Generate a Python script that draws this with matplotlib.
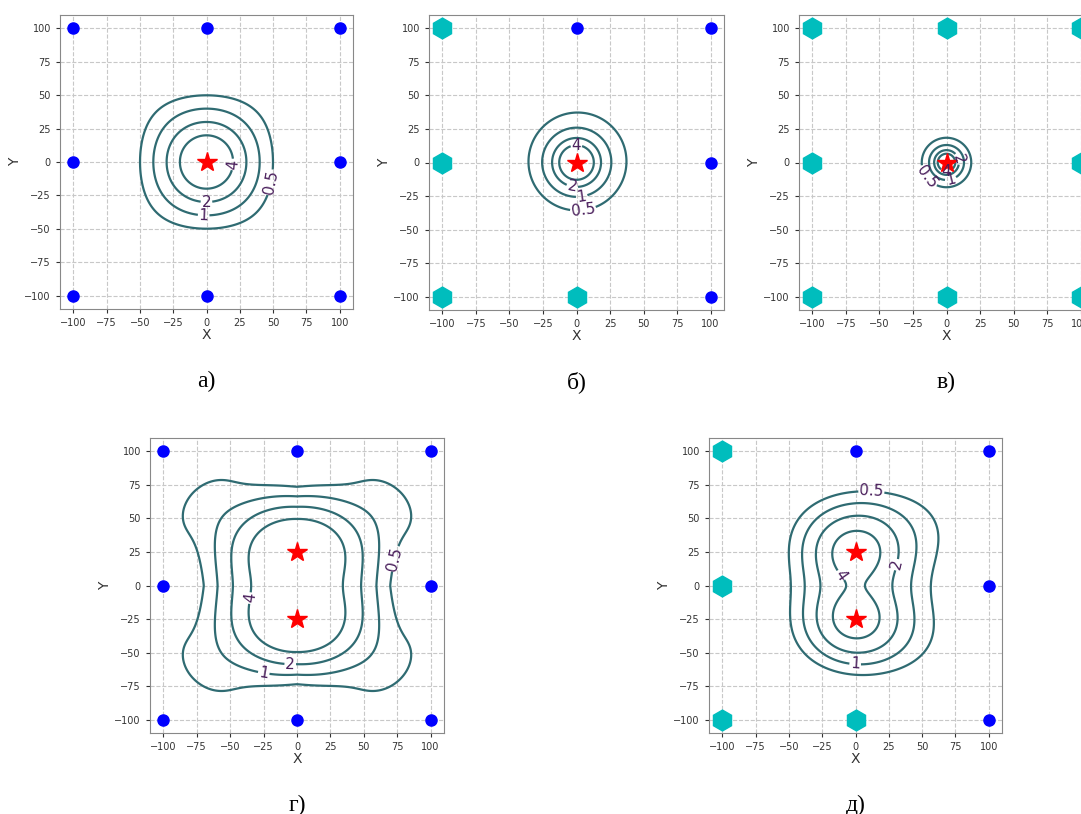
import numpy as np
import matplotlib.pyplot as plt

# contour levels and the sensor grid
levels = [0.5, 1, 2, 4]
sensor_x = [-100, 0, 100, -100, 100, -100, 0, 100]
sensor_y = [100, 100, 100, 0, 0, -100, -100, -100]

# indices of failed sensors in each panel
failed_a = []
failed_b = [0, 3, 5, 6]
failed_c = [0, 1, 2, 3, 4, 5, 6, 7]
failed_d = []
failed_e = [0, 3, 5, 6]

# source positions
one_x = [0]
one_y = [0]
two_x = [0, 0]
two_y = [25, -25]

captions = ['а)', 'б)', 'в)', 'г)', 'д)']

# field model per panel:
# amp, decay, core, power, stretch, corner, corner_max, corner_pow, corner_shape,
# side, bridge, tilt_x, tilt_y
model_a = [16.0, 14.4, 0.0, 0, 1.0, 1.2, 1.0, 4, 2, 0.0, 0.0, 0.0, 0.0]
model_b = [6.65, 1e9, 0.5, 2, 1.0, 0.0, 1.0, 4, 2, 0.0, 0.0, 0.003, 0.003]
model_c = [1.7, 1e9, 0.5, 2, 1.0, 0.0, 1.0, 4, 2, 0.0, 0.0, 0.0, 0.0]
model_d = [1770.0, 7.7, 40.0, 0, 1.37, 0.95, 2.7, 6, 1.2, 0.0, 0.15, 0.0, 0.0]
model_e = [72.7, 10.0, 25.0, 0, 1.1, 0.4, 1.0, 4, 2, 1.2, 0.0, 0.006, 0.002]

# label anchor points for clabel
lab_a = [(22, -2), (47, -15), (0, -28), (-2, -37)]
lab_b = [(0, 10), (-3, -17), (4, -26), (5, -36)]
lab_c = [(10, 3), (0, -6), (3, -12), (-16, -12)]
lab_d = [(73, 20), (-31, -10), (-5, -57), (-25, -66)]
lab_e = [(12, 72), (33, 15), (-12, 7), (0, -55)]

W, H = 1081, 814


def field(X, Y, sx, sy, m):
    (amp, decay, core, power, stretch, corner, cmax, cpow, cshape,
     side, bridge, tx, ty) = m
    f = np.zeros_like(X)
    for px, py in zip(sx, sy):
        rho2 = ((X - px) / stretch) ** 2 + (Y - py) ** 2
        u = np.sqrt(rho2 + core ** 2)
        f += amp * np.exp(-u / decay) * (10.0 / u) ** power
    cx, cy = np.mean(sx), np.mean(sy)
    r = np.hypot(X - cx, Y - cy)
    th = np.arctan2(Y - cy, X - cx)
    h = cmax * np.tanh(corner / cmax * (r / 80.0) ** cpow)
    mod = h * np.abs(np.sin(2 * th)) ** cshape
    mod += side * np.tanh((r / 80.0) ** 4) * np.cos(th) ** 2
    mod += bridge * np.exp(-((Y - cy) / 20.0) ** 2)
    mod += (tx * X + ty * Y) * 1.6 * np.tanh((r / 60.0) ** 2 / 1.6)
    return f * np.exp(mod)


def panel(box, stars_x, stars_y, failed, m, labs, cap):
    l, t, r, b = box
    ax = fig.add_axes([l / W, 1 - b / H, (r - l) / W, (b - t) / H])
    g = np.linspace(-110, 110, 221)
    X, Y = np.meshgrid(g, g)
    Z = field(X, Y, stars_x, stars_y, m)
    cs = ax.contour(X, Y, Z, levels=levels, colors='#2f6b72', linewidths=1.6)
    ax.clabel(cs, fmt='%g', fontsize=11, colors='#4a1f5c', inline=True,
              inline_spacing=1, manual=labs)
    ok = [i for i in range(len(sensor_x)) if i not in failed]
    ax.plot([sensor_x[i] for i in ok], [sensor_y[i] for i in ok], 'o', color='blue', ms=8)
    ax.plot([sensor_x[i] for i in failed], [sensor_y[i] for i in failed], 'h', color='#00bdbd', ms=15)
    ax.plot(stars_x, stars_y, '*', color='red', ms=15)
    ax.set_xlim(-110, 110)
    ax.set_ylim(-110, 110)
    ticks = np.arange(-100, 101, 25)
    ax.set_xticks(ticks)
    ax.set_yticks(ticks)
    ax.tick_params(labelsize=7, colors='#333333', length=3)
    ax.grid(True, ls='--', color='#c8c8c8', lw=0.8)
    ax.set_axisbelow(True)
    for sp in ax.spines.values():
        sp.set_color('#888888')
    ax.set_xlabel('X', fontsize=10, labelpad=0, color='#333333')
    ax.set_ylabel('Y', fontsize=10, labelpad=2, color='#333333')
    fig.text((l + r) / 2 / W, 1 - (b + 72) / H, cap, ha='center', va='center',
             fontsize=17, family='Liberation Serif')
    return ax


fig = plt.figure(figsize=(W / 100, H / 100), dpi=100)
panel((60, 15, 353, 309), one_x, one_y, failed_a, model_a, lab_a, captions[0])
panel((429, 15, 724, 310), one_x, one_y, failed_b, model_b, lab_b, captions[1])
panel((799, 15, 1094, 310), one_x, one_y, failed_c, model_c, lab_c, captions[2])
panel((150, 438, 444, 733), two_x, two_y, failed_d, model_d, lab_d, captions[3])
panel((709, 438, 1002, 733), two_x, two_y, failed_e, model_e, lab_e, captions[4])
fig.savefig('out.png', dpi=100)
